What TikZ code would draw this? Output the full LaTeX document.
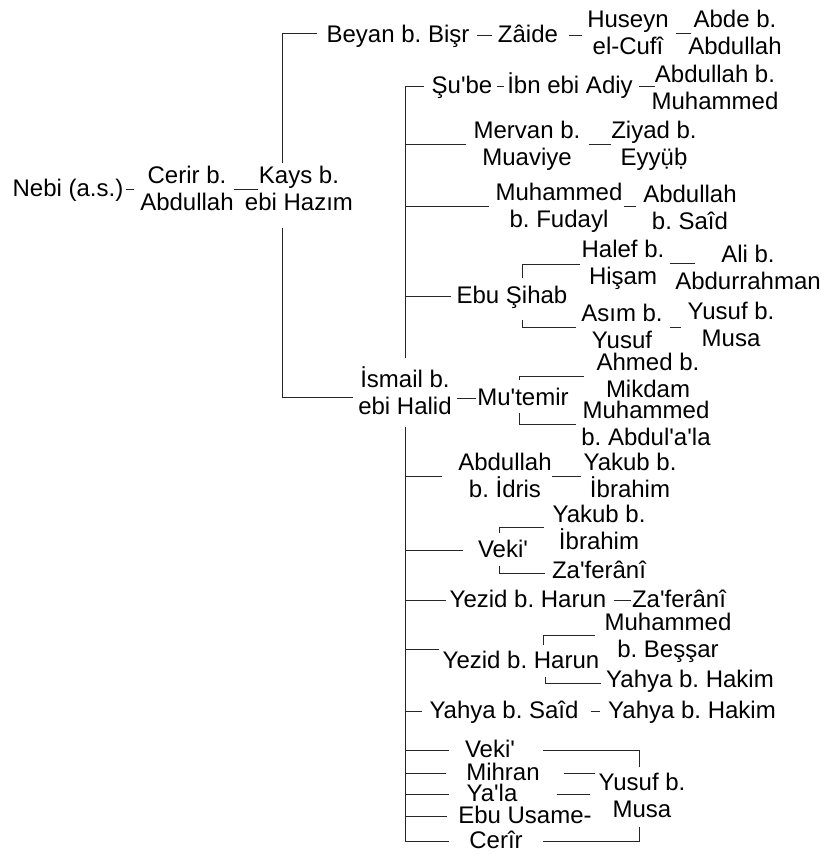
\documentclass[tikz,border=0pt]{standalone}
\usepackage{fontspec}
\newfontfamily\treefont{Liberation Sans}
\usepackage{tikz}
\frenchspacing

\begin{document}
\begin{tikzpicture}[
  x=1pt, y=-1pt,
  narr/.style={font=\treefont\fontsize{24}{27}\selectfont, inner sep=0pt, anchor=base,
    align=center, text height=18pt, text depth=4pt},
  narrtwo/.style={narr, text height=45pt, yshift=-27pt},
  link/.style={draw=black!85, line width=1pt},
]
\useasboundingbox (0,0) rectangle (824,854);

% First links of the chain
\node[narr] (nebi) at (68,196) {Nebi (a.s.)};
\node[narrtwo] (cerir) at (187,183) {Cerir b.\\Abdullah};
\node[narrtwo] (kays) at (299,183) {Kays b.\\ebi Hazım};

% Beyan branch
\node[narr] (beyan) at (398,42) {Beyan b. Bişr};
\node[narr] (zaide) at (528,42) {Zâide};
\node[narrtwo] (huseyn) at (628,27) {Huseyn\\el-Cufî};
\node[narrtwo] (abde) at (735,27) {Abde b.\\Abdullah};

% Ismail and his students
\node[narrtwo] (ismail) at (405,387) {İsmail b.\\ebi Halid};
\node[narr] (sube) at (462,93) {Şu'be};
\node[narr] (ibn) at (570,93) {İbn ebi Adiy};
\node[narrtwo] (abdmuh) at (715,82) {Abdullah b.\\Muhammed};
\node[narrtwo] (mervan) at (527,138) {Mervan b.\\Muaviye};
\node[narrtwo] (ziyad) at (654,138) {Ziyad b.\\Eyyü\char"0323 b\char"0323};
\node[narrtwo] (muhfud) at (559,200) {Muhammed\\b. Fudayl};
\node[narrtwo] (abdsaid) at (690,202) {Abdullah\\b. Saîd};
\node[narr] (ebusihab) at (512,303) {Ebu Şihab};
\node[narrtwo] (halef) at (623,257) {Halef b.\\Hişam};
\node[narrtwo] (ali) at (748,262) {Ali b.\\Abdurrahman};
\node[narrtwo] (asim) at (622,321) {Asım b.\\Yusuf};
\node[narrtwo] (yusufa) at (731,319) {Yusuf b.\\Musa};
\node[narr] (mutemir) at (523,405) {Mu'temir};
\node[narrtwo] (ahmed) at (648,370) {Ahmed b.\\Mikdam};
\node[narrtwo] (muhabd) at (646,418) {Muhammed\\b. Abdul'a'la};
\node[narrtwo] (abdidris) at (505,470) {Abdullah\\b. İdris};
\node[narrtwo] (yakuba) at (630,470) {Yakub b.\\İbrahim};
\node[narr] (vekia) at (503,557) {Veki'};
\node[narrtwo] (yakubb) at (599,522) {Yakub b.\\İbrahim};
\node[narr] (zafa) at (599,578) {Za'ferânî};
\node[narr] (yezida) at (528,607) {Yezid b. Harun};
\node[narr] (zafb) at (679,607) {Za'ferânî};
\node[narr] (yezidb) at (521,668) {Yezid b. Harun};
\node[narrtwo] (muhbes) at (668,630) {Muhammed\\b. Beşşar};
\node[narr] (yahyaa) at (690,687) {Yahya b. Hakim};
\node[narr] (yahyasaid) at (504,718) {Yahya b. Saîd};
\node[narr] (yahyab) at (692,718) {Yahya b. Hakim};
\node[narr] (vekib) at (490,757) {Veki'};
\node[narr] (mihran) at (503,780) {Mihran};
\node[narr] (yala) at (492,801) {Ya'la};
\node[narr] (usame) at (525,823) {Ebu Usame-};
\node[narr] (cerirb) at (496,848) {Cerîr};
\node[narrtwo] (yusufb) at (642,790) {Yusuf b.\\Musa};

% Straight links along a row
\draw[link, shorten <=2pt, shorten >=6pt] (nebi.east) -- (nebi.east -| cerir.west);
\draw[link, shorten >=-13pt] (cerir.east) -- (cerir.east -| kays.west);
\draw[link, shorten <=7pt, shorten >=6pt] (beyan.east) -- (beyan.east -| zaide.west);
\draw[link, shorten <=11pt, shorten >=5pt] (zaide.east) -- (zaide.east -| huseyn.west);
\draw[link, shorten <=7pt, shorten >=-3pt] (huseyn.east) -- (huseyn.east -| abde.west);
\draw[link, shorten <=4pt, shorten >=3pt] (sube.east) -- (sube.east -| ibn.west);
\draw[link, shorten <=6pt, shorten >=-4pt] (ibn.east) -- (ibn.east -| abdmuh.west);
\draw[link, shorten <=8pt] (mervan.east) -- (mervan.east -| ziyad.west);
\draw[link, shorten <=1pt, shorten >=7pt] (muhfud.east) -- (muhfud.east -| abdsaid.west);
\draw[link, shorten <=5pt, shorten >=-20pt] (halef.east) -- (halef.east -| ali.west);
\draw[link, shorten <=7pt, shorten >=6pt] (asim.east) -- (asim.east -| yusufa.west);
\draw[link, shorten <=5pt, shorten >=1pt] (mutemir.west -| ismail.east) -- (mutemir.west);
\draw[link, shorten >=2pt] (abdidris.east) -- (abdidris.east -| yakuba.west);
\draw[link, shorten <=8pt, shorten >=1pt] (yezida.east) -- (yezida.east -| zafb.west);
\draw[link, shorten <=12pt, shorten >=8pt] (yahyasaid.east) -- (yahyasaid.east -| yahyab.west);
\draw[link, shorten <=24pt, shorten >=3pt] (mihran.east) -- (mihran.east -| yusufb.west);
\draw[link, shorten <=39pt, shorten >=8pt] (yala.east) -- (yala.east -| yusufb.west);

% Forks
\draw[link] ([xshift=-17pt, yshift=2pt]kays.north) |- ([xshift=-9pt, yshift=2pt]beyan.west);
\draw[link] ([xshift=-17pt, yshift=-14pt]kays.south) |- ([xshift=-5pt, yshift=-4pt]ismail.west);
\draw[link] ([xshift=10pt, yshift=7pt]ebusihab.north) |- ([xshift=-1pt, yshift=-1pt]halef.west);
\draw[link] ([xshift=10pt, yshift=-13pt]ebusihab.south) |- ([xshift=-5pt]asim.west);
\draw[link] ([xshift=-4pt, yshift=7pt]mutemir.north) |- ([xshift=-12pt]ahmed.west);
\draw[link] ([xshift=-4pt, yshift=-4pt]mutemir.south) |- ([xshift=-5pt]muhabd.west);
\draw[link] ([xshift=-4pt, yshift=6pt]vekia.north) |- ([xshift=-8pt, yshift=1pt]yakubb.west);
\draw[link] ([xshift=-4pt, yshift=-5pt]vekia.south) |- ([xshift=-7pt, yshift=-2pt]zafa.west);
\draw[link] ([xshift=22pt, yshift=5pt]yezidb.north) |- ([xshift=-9pt, yshift=1pt]muhbes.west);
\draw[link] ([xshift=24pt, yshift=-5pt]yezidb.south) |- ([xshift=-5pt, yshift=-3pt]yahyaa.west);
\draw[link, shorten <=28pt] (vekib.east) -| ([xshift=-3pt, yshift=5pt]yusufb.north);
\draw[link, shorten <=20pt] (cerirb.east) -| ([xshift=-3pt, yshift=-6pt]yusufb.south);

% Trunk of Ismail's students
\draw[link] ([yshift=11pt]ismail.north) |- ([xshift=-7pt]sube.west);
\draw[link] ([yshift=-9pt]ismail.south) |- ([xshift=-20pt]cerirb.west);
\foreach \n/\g in {mervan/7, muhfud/6, ebusihab/5, abdidris/16, vekia/15, yezida/4,
    yahyasaid/7, vekib/16, mihran/20, yala/17, usame/11} {
  \draw[link] (\n.west -| ismail.center) -- ([xshift=-\g pt]\n.west);
}
\coordinate (yezidtick) at ([yshift=12pt]yezidb.west);
\draw[link] (yezidtick -| ismail.center) -- ([xshift=-4pt]yezidtick);
\end{tikzpicture}
\end{document}
